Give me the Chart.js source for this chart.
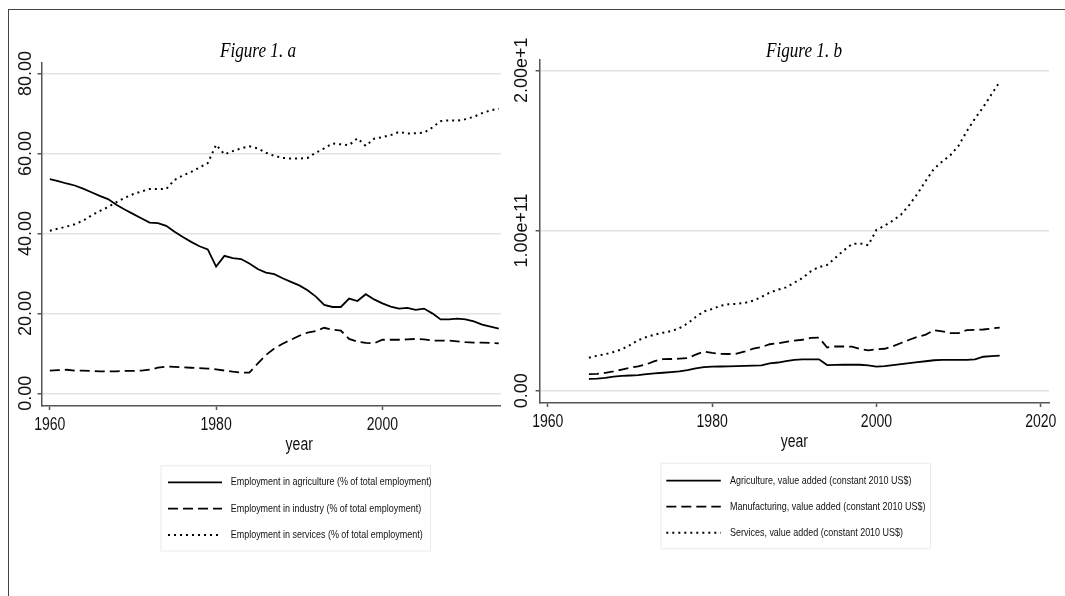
<!DOCTYPE html>
<html>
<head>
<meta charset="utf-8">
<title>Figure 1</title>
<style>
  html, body { margin: 0; background: #fff; overflow: hidden; }
  #figA { position: absolute; left: 0; top: 0; }
  #figB { position: absolute; left: 501px; top: 0; background: #fff; }
  #frame { position: absolute; left: 7.5px; top: 8.5px; width: 1200px; height: 700px;
           border-top: 1.5px solid #444; border-left: 1.5px solid #444; }
</style>
</head>
<body>
<canvas id="figA" width="600" height="596"></canvas>
<canvas id="figB" width="564" height="596"></canvas>
<div id="frame"></div>

<script src="https://cdn.jsdelivr.net/npm/chart.js@4.4.1/dist/chart.umd.min.js"></script>
<script>
// ---- Figure 1.a : employment shares (%)
var yearsA = [1960, 1961, 1962, 1963, 1964, 1965, 1966, 1967, 1968, 1969,
              1970, 1971, 1972, 1973, 1974, 1975, 1976, 1977, 1978, 1979,
              1980, 1981, 1982, 1983, 1984, 1985, 1986, 1987, 1988, 1989,
              1990, 1991, 1992, 1993, 1994, 1995, 1996, 1997, 1998, 1999,
              2000, 2001, 2002, 2003, 2004, 2005, 2006, 2007, 2008, 2009,
              2010, 2011, 2012, 2013, 2014];
var agriEmp = [53.6, 53.1, 52.5, 52.0, 51.2, 50.3, 49.4, 48.6, 47.2, 46.0,
               44.9, 43.8, 42.7, 42.6, 41.9, 40.4, 39.1, 37.9, 36.8, 36.0,
               31.7, 34.4, 33.8, 33.6, 32.5, 31.1, 30.2, 29.8, 28.8, 27.9,
               27.0, 25.8, 24.2, 22.1, 21.6, 21.6, 23.7, 23.1, 24.8, 23.5,
               22.5, 21.7, 21.2, 21.4, 20.9, 21.2, 20.0, 18.5, 18.5, 18.7,
               18.5, 18.0, 17.2, 16.7, 16.2];
var indEmp = [5.7, 5.8, 5.9, 5.7, 5.7, 5.6, 5.5, 5.5, 5.5, 5.6,
              5.6, 5.7, 5.9, 6.4, 6.7, 6.6, 6.5, 6.4, 6.3, 6.2,
              6.0, 5.7, 5.4, 5.2, 5.2, 7.4, 9.6, 11.2, 12.4, 13.4,
              14.4, 15.2, 15.6, 16.4, 15.9, 15.7, 13.6, 12.9, 12.6, 12.5,
              13.4, 13.4, 13.4, 13.5, 13.6, 13.5, 13.2, 13.2, 13.2, 13.0,
              12.8, 12.7, 12.7, 12.6, 12.5];
var servEmp = [40.7, 41.2, 41.7, 42.3, 43.2, 44.5, 45.6, 46.6, 47.8, 48.9,
               49.8, 50.5, 51.1, 51.1, 51.1, 53.4, 54.5, 55.4, 56.5, 57.6,
               62.2, 59.8, 60.6, 61.3, 61.8, 61.3, 60.2, 59.4, 58.9, 58.75,
               58.75, 58.9, 60.2, 61.3, 62.5, 62.3, 62.1, 63.8, 61.9, 63.7,
               64.1, 64.6, 65.4, 65.0, 65.1, 65.2, 66.5, 68.1, 68.3, 68.2,
               68.6, 69.2, 70.1, 70.8, 71.2];

// ---- Figure 1.b : value added, constant 2010 US$
var yearsB = [1965, 1966, 1967, 1968, 1969,
              1970, 1971, 1972, 1973, 1974, 1975, 1976, 1977, 1978, 1979,
              1980, 1981, 1982, 1983, 1984, 1985, 1986, 1987, 1988, 1989,
              1990, 1991, 1992, 1993, 1994, 1995, 1996, 1997, 1998, 1999,
              2000, 2001, 2002, 2003, 2004, 2005, 2006, 2007, 2008, 2009,
              2010, 2011, 2012, 2013, 2014, 2015];
var agriVA = [7.4e9, 7.6e9, 8.0e9, 8.8e9, 9.2e9,
              9.5e9, 9.7e9, 10.3e9, 10.8e9, 11.2e9, 11.6e9, 12.1e9, 12.8e9, 14.0e9, 14.7e9,
              15.0e9, 15.1e9, 15.2e9, 15.3e9, 15.5e9, 15.6e9, 15.8e9, 17.0e9, 17.6e9, 18.5e9,
              19.2e9, 19.6e9, 19.6e9, 19.6e9, 16.0e9, 16.1e9, 16.2e9, 16.2e9, 16.2e9, 15.8e9,
              15.0e9, 15.3e9, 16.0e9, 16.6e9, 17.2e9, 17.8e9, 18.4e9, 19.0e9, 19.3e9, 19.3e9,
              19.3e9, 19.3e9, 19.5e9, 21.2e9, 21.6e9, 21.9e9];
var manVA = [10.3e9, 10.5e9, 11.2e9, 12.1e9, 13.2e9,
             14.3e9, 15.2e9, 16.5e9, 18.5e9, 19.7e9, 19.8e9, 20.0e9, 20.4e9, 22.5e9, 24.4e9,
             23.6e9, 23.0e9, 22.9e9, 23.1e9, 24.5e9, 26.2e9, 27.2e9, 29.0e9, 29.6e9, 30.5e9,
             31.3e9, 31.8e9, 33.0e9, 33.1e9, 27.0e9, 27.6e9, 27.6e9, 27.5e9, 26.0e9, 25.2e9,
             25.8e9, 26.2e9, 27.8e9, 29.8e9, 31.8e9, 33.6e9, 35.0e9, 37.8e9, 37.0e9, 36.0e9,
             36.0e9, 37.8e9, 38.0e9, 38.2e9, 38.8e9, 39.4e9];
var servVA = [20.6e9, 21.8e9, 22.8e9, 24.2e9, 25.8e9,
              28.5e9, 31.5e9, 33.5e9, 35.0e9, 36.2e9, 37.2e9, 39.0e9, 42.0e9, 46.0e9, 49.5e9,
              51.0e9, 53.0e9, 54.0e9, 54.2e9, 54.8e9, 56.2e9, 58.5e9, 61.2e9, 63.0e9, 64.5e9,
              67.5e9, 70.4e9, 74.5e9, 77.2e9, 78.5e9, 83.0e9, 87.5e9, 91.5e9, 92.0e9, 90.8e9,
              100.4e9, 103.0e9, 106.2e9, 110.0e9, 116.0e9, 123.0e9, 131.0e9, 138.5e9, 143.0e9, 147.0e9,
              153.0e9, 162.0e9, 170.0e9, 177.0e9, 185.0e9, 192.8e9];

// ---- ticks
var xTicks = [1960, 1980, 2000, 2020];
var yTicksA = [0, 20, 40, 60, 80];
var yLabelsA = ['0.00', '20.00', '40.00', '60.00', '80.00'];
var yTicksB = [0, 1e11, 2e11];
var yLabelsB = ['0.00', '1.00e+11', '2.00e+1'];

var labelsA = ['Employment in agriculture (% of total employment)',
               'Employment in industry (% of total employment)',
               'Employment in services (% of total employment)'];
var labelsB = ['Agriculture, value added (constant 2010 US$)',
               'Manufacturing, value added (constant 2010 US$)',
               'Services, value added (constant 2010 US$)'];

var SANS = '"Liberation Sans", Arial, sans-serif';
var tickFont = { family: SANS, size: 18 };
var DASHES = [[], [10, 5], [2, 4]];
var SQUEEZE = 0.78;   // the figure's horizontal lettering is condensed

function pts(xs, ys) {
  return xs.map(function (x, i) { return { x: x, y: ys[i] }; });
}

// condense horizontal text around its anchor point; rotated labels are left alone
function squeezeText(ctx, k) {
  var fill = ctx.fillText;
  ctx.fillText = function (t, x, y, mw) {
    var m = this.getTransform();
    if (Math.abs(m.b) > 1e-6) return fill.call(this, t, x, y, mw);
    var ax = m.a * x + m.c * y + m.e;
    this.save();
    this.setTransform(new DOMMatrix([k, 0, 0, 1, ax * (1 - k), 0]).multiply(m));
    fill.call(this, t, x, y, mw);
    this.restore();
  };
}

// y labels are rotated; Chart.js centres them at widest/2 from the tick, so work out the padding
function yPad(labels, offset, tl) {
  var c = document.createElement('canvas').getContext('2d');
  c.font = '18px ' + SANS;
  var w = Math.max.apply(null, labels.map(function (t) { return c.measureText(t).width; }));
  return offset - tl - w / 2;
}

// title + framed legend, drawn on top of each panel
var figText = {
  id: 'figText',
  afterDraw: function (chart, args, o) {
    var ctx = chart.ctx;
    ctx.save();
    ctx.fillStyle = '#000';
    ctx.font = 'italic 22px "Liberation Serif", "Times New Roman", serif';
    ctx.textAlign = 'center';
    ctx.textBaseline = 'alphabetic';
    ctx.fillText(o.title, o.titleX, o.titleY);

    var L = o.legend;
    ctx.strokeStyle = '#ebebeb';
    ctx.lineWidth = 1;
    ctx.strokeRect(L.x, L.y, L.w, L.h);
    ctx.font = '11.5px ' + SANS;
    ctx.textAlign = 'left';
    ctx.textBaseline = 'middle';
    chart.data.datasets.forEach(function (ds, i) {
      var y = L.y + L.rowTop + i * L.rowGap;
      ctx.strokeStyle = ds.borderColor;
      ctx.lineWidth = ds.borderWidth;
      ctx.setLineDash(ds.borderDash);
      ctx.beginPath();
      ctx.moveTo(L.x + L.line0, y);
      ctx.lineTo(L.x + L.line1, y);
      ctx.stroke();
      ctx.setLineDash([]);
      ctx.fillStyle = '#111';
      ctx.fillText(ds.label, L.x + L.textX, y);
    });
    ctx.restore();
  }
};

function makePanel(id, p) {
  var canvas = document.getElementById(id);
  squeezeText(canvas.getContext('2d'), SQUEEZE);
  var datasets = p.series.map(function (s, i) {
    return {
      label: p.labels[i],
      data: pts(p.years, s),
      borderColor: '#000',
      borderWidth: i == 2 ? 2 : 1.8,
      borderDash: DASHES[i],
      pointRadius: 0,
      fill: false,
      tension: 0
    };
  });
  return new Chart(canvas, {
    type: 'line',
    data: { datasets: datasets },
    plugins: [figText],
    options: {
      responsive: false,
      animation: false,
      devicePixelRatio: 1,
      events: [],
      layout: { padding: p.padding },
      plugins: {
        legend: { display: false },
        tooltip: { enabled: false },
        figText: { title: p.title, titleX: p.titleX, titleY: 56.7, legend: p.legend }
      },
      scales: {
        x: {
          type: 'linear', min: 1959, max: 2021,
          afterBuildTicks: function (s) { s.ticks = xTicks.map(function (v) { return { value: v }; }); },
          afterFit: function (s) { s.height = 50; },
          ticks: { font: tickFont, color: '#111', padding: 4, maxRotation: 0, autoSkip: false,
                   callback: function (v) { return String(v); } },
          grid: { drawOnChartArea: false, drawTicks: true, tickLength: 4, tickColor: '#555', tickWidth: 1.5 },
          border: { color: '#555', width: 1.5 },
          title: { display: true, text: 'year', font: { family: SANS, size: 18 }, color: '#111',
                   padding: { top: 0, bottom: 0 } }
        },
        y: {
          type: 'linear', min: p.yMin, max: p.yMax,
          afterBuildTicks: function (s) { s.ticks = p.yTicks.map(function (v) { return { value: v }; }); },
          afterFit: function (s) { s.width = p.yWidth; },
          ticks: { font: tickFont, color: '#111', minRotation: 90, maxRotation: 90, crossAlign: 'center',
                   autoSkip: false, padding: yPad(p.yLabels, p.labelOffset, 4),
                   callback: function (v) { return p.yLabels[p.yTicks.indexOf(v)]; } },
          grid: { color: '#e3e3e3', lineWidth: 1.5, drawTicks: true, tickLength: 4, tickColor: '#555', tickWidth: 1.5 },
          border: { color: '#555', width: 1.5 }
        }
      }
    }
  });
}

makePanel('figA', {
  years: yearsA, series: [agriEmp, indEmp, servEmp], labels: labelsA,
  yTicks: yTicksA, yLabels: yLabelsA, yMin: -3.175, yMax: 82.825,
  yWidth: 41.5, labelOffset: 15.7,
  padding: { left: 0, right: 43, top: 62.3, bottom: 140 },
  title: 'Figure 1. a', titleX: 258,
  legend: { x: 161, y: 465.7, w: 269.5, h: 85.3, rowTop: 16.6, rowGap: 26.3, line0: 7, line1: 61, textX: 69.7 }
});

makePanel('figB', {
  years: yearsB, series: [agriVA, manVA, servVA], labels: labelsB,
  yTicks: yTicksB, yLabels: yLabelsB, yMin: -0.0767e11, yMax: 2.0686e11,
  yWidth: 38.6, labelOffset: 17.6,
  padding: { left: 0, right: 12, top: 59.3, bottom: 143 },
  title: 'Figure 1. b', titleX: 303,
  legend: { x: 160, y: 463.3, w: 269.5, h: 85.4, rowTop: 17.4, rowGap: 26, line0: 5.3, line1: 59.8, textX: 69 }
});
</script>
</body>
</html>
